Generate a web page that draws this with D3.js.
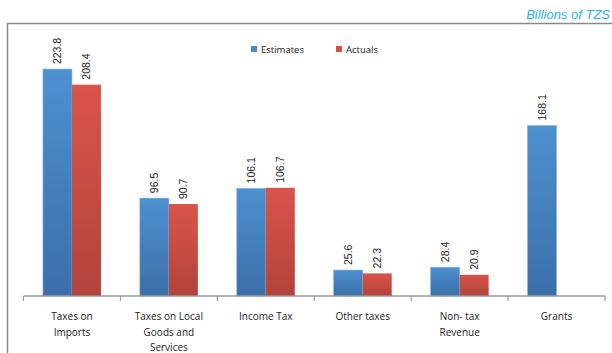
<!DOCTYPE html>
<html><head><meta charset="utf-8">
<script src="https://cdn.jsdelivr.net/npm/d3@7"></script>
<style>body{margin:0;background:#fff;}svg{display:block;}</style>
</head><body>
<svg id="c" width="612" height="353"></svg>
<script>
const categories = [["Taxes on","Imports"],["Taxes on Local","Goods and","Services"],["Income Tax"],["Other taxes"],["Non- tax","Revenue"],["Grants"]];
const estimates = [223.8, 96.5, 106.1, 25.6, 28.4, 168.1];
const actuals = [208.4, 90.7, 106.7, 22.3, 20.9, null];
const seriesNames = ["Estimates","Actuals"];

const svg = d3.select("#c");
const defs = svg.append("defs");
function grad(id, c1, c2){
  const g = defs.append("linearGradient").attr("id", id).attr("x1",0).attr("y1",0).attr("x2",0).attr("y2",1);
  g.append("stop").attr("offset","0%").attr("stop-color",c1);
  g.append("stop").attr("offset","100%").attr("stop-color",c2);
}
grad("gb", "#4e90d0", "#3a6fa9");
grad("gr", "#d9544a", "#b2433b");

// frame
svg.append("path").attr("d","M7.5,353 L7.5,23.5 L612,23.5").attr("fill","none").attr("stroke","#8a8a8a").attr("stroke-width",1.5);

svg.append("text").attr("x",610).attr("y",19).attr("text-anchor","end").attr("font-family","Liberation Sans, Arial").attr("font-style","italic")
  .attr("font-size",13).attr("fill","#29b3ea").text("Billions of TZS");

const x0 = d3.scaleBand().domain(d3.range(categories.length)).range([23.5, 605]).paddingInner(0).paddingOuter(0);
const y = d3.scaleLinear().domain([0, 250]).range([296, 42.5]);
const bw = 29;

const g = svg.append("g");
categories.forEach((c, i) => {
  const cx = x0(i) + x0.bandwidth()/2;
  const vals = [estimates[i], actuals[i]];
  vals.forEach((v, j) => {
    if (v == null) return;
    const bx = cx - bw + j*bw;
    g.append("rect").attr("x", bx).attr("y", y(v)).attr("width", bw).attr("height", y(0)-y(v))
      .attr("fill", j===0 ? "url(#gb)" : "url(#gr)")
      .attr("stroke", j===0 ? "#7eb0e0" : "none").attr("stroke-width", j===0 ? 0.6 : 0);
    const lx = bx + bw/2 + 4, ly = y(v) - 5;
    g.append("text").attr("transform", `translate(${lx},${ly}) rotate(-90)`)
      .attr("font-family","Liberation Sans, Arial").attr("font-size",10.5).attr("fill","#222")
      .attr("text-anchor","start").text(v.toFixed(1));
  });
});

// axis
const ax = svg.append("g").attr("transform","translate(0,296)");
ax.append("line").attr("x1",x0.range()[0]).attr("x2",x0.range()[1]).attr("stroke","#999").attr("stroke-width",1.5);
d3.range(categories.length+1).forEach(i => {
  const tx = x0.range()[0] + i*x0.bandwidth();
  ax.append("line").attr("x1",tx).attr("x2",tx).attr("y1",0).attr("y2",5).attr("stroke","#999").attr("stroke-width",1.2);
});
categories.forEach((c, i) => {
  const cx = x0(i) + x0.bandwidth()/2;
  c.forEach((line, k) => {
    svg.append("text").attr("x", cx).attr("y", 320 + k*15.5).attr("text-anchor","middle")
      .attr("font-family","Open Sans, DejaVu Sans, sans-serif").attr("font-size",10).attr("fill","#222").text(line);
  });
});

// legend
const lg = svg.append("g");
[[251, "#4a8ccc"], [336, "#d4504a"]].forEach((d, i) => {
  lg.append("rect").attr("x", d[0]).attr("y", 46).attr("width", 6).attr("height", 6).attr("fill", d[1]);
  lg.append("text").attr("x", d[0]+10).attr("y", 53).attr("font-family","Open Sans, DejaVu Sans, sans-serif")
    .attr("font-size",9.5).attr("fill","#222").text(seriesNames[i]);
});
</script>
</body></html>
